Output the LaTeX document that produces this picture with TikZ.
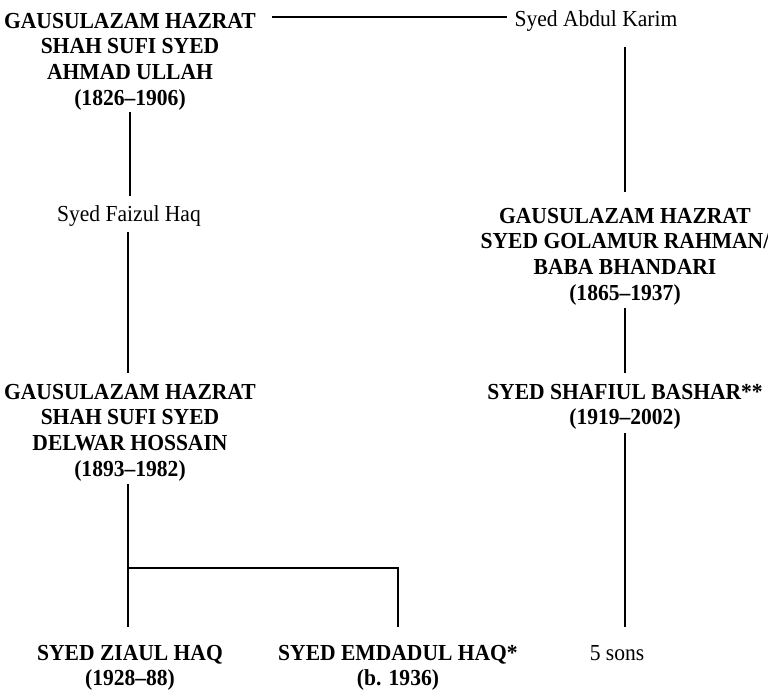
\documentclass[tikz,border=0pt]{standalone}
\usepackage{fontspec}
\setmainfont{Liberation Serif}[FakeStretch=0.94]
\usetikzlibrary{calc}
\begin{document}
\begin{tikzpicture}[x=0.75pt,y=-0.75pt,
  every node/.style={inner sep=0pt,outer sep=0pt},
  big/.style={align=center,font=\fontsize{17.2}{19.3}\selectfont\bfseries},
  small/.style={font=\fontsize{17.2}{19.3}\selectfont},
  link/.style={line width=1.1pt}]
\useasboundingbox (0,0) rectangle (768,690);
% nodes
\node[big,anchor=north] (ahmad) at (130,13) {GAUSULAZAM HAZRAT\\SHAH SUFI SYED\\AHMAD ULLAH\\(1826–1906)};
\node[small,anchor=base] (karim) at (596,26) {Syed Abdul Karim};
\node[small,anchor=base] (faizul) at (129,221) {Syed Faizul Haq};
\node[big,anchor=north] (golam) at (625,208) {GAUSULAZAM HAZRAT\\SYED GOLAMUR RAHMAN/\\BABA BHANDARI\\(1865–1937)};
\node[big,anchor=north] (delwar) at (130,384) {GAUSULAZAM HAZRAT\\SHAH SUFI SYED\\DELWAR HOSSAIN\\(1893–1982)};
\node[big,anchor=north] (shafiul) at (625,384) {SYED SHAFIUL BASHAR**\\(1919–2002)};
\node[big,anchor=north] (ziaul) at (130,645) {SYED ZIAUL HAQ\\(1928–88)};
\node[big,anchor=north] (emdad) at (398,645) {SYED EMDADUL HAQ*\\(b. 1936)};
\node[small,anchor=base] (sons) at (617,660) {5 sons};
\coordinate (branch) at (128,568);
\coordinate (topL) at (272,17);
% connectors
\draw[link] (topL) -- ($(topL -| karim.west)+(-8,0)$);
\draw[link] ($(ahmad.south)+(0,2)$) -- ($(ahmad.south |- faizul.north)+(0,-9)$);
\draw[link] ($(faizul.south)+(-1,6)$) -- ($(delwar.north)+(-2,-11)$);
\draw[link] ($(karim.south -| golam.north)+(0,16)$) -- ($(golam.north)+(0,-16)$);
\draw[link] ($(golam.south)+(0,3)$) -- ($(golam.south |- shafiul.north)+(0,-11)$);
\draw[link] ($(delwar.south)+(-2,3)$) -- ($(delwar.south |- ziaul.north)+(-2,-18)$);
\draw[link] (branch) -| ($(emdad.north)+(0,-18)$);
\draw[link] ($(shafiul.south)+(0,3)$) -- ($(shafiul.south |- ziaul.north)+(0,-18)$);
\end{tikzpicture}
\end{document}
